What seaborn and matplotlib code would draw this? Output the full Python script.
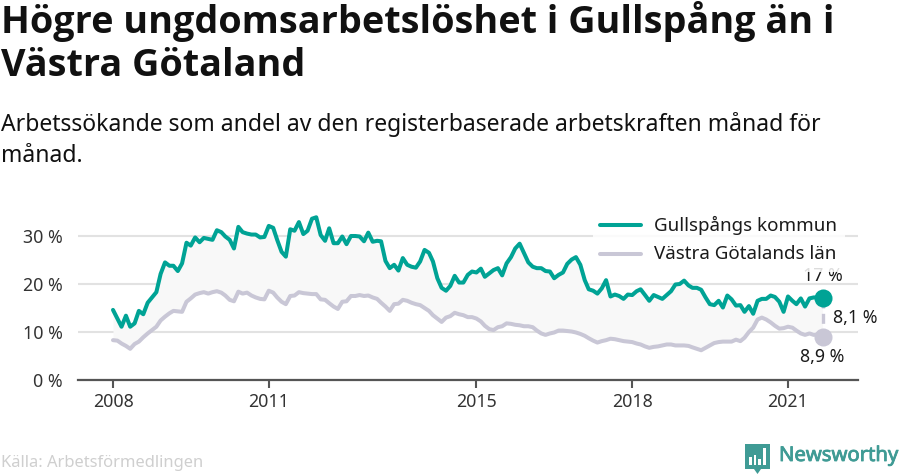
# ----- libraries
import matplotlib.pyplot as plt
import matplotlib.patches as patches
import matplotlib.patheffects as pe
import pandas as pd
import seaborn as sns

# ----- data, one row per year, monthly from 2008-01 to 2021-09
months = pd.date_range("2008-01-01", "2021-09-01", freq="MS")

gullspang = [
    14.6, 12.8, 11.1, 13.4, 11.1, 11.8, 14.4, 13.7, 16.1, 17.2, 18.3, 22.1,
    24.5, 23.8, 23.8, 22.7, 24.3, 28.6, 28.0, 29.7, 28.7, 29.6, 29.4, 29.2,
    31.2, 30.8, 29.9, 29.2, 27.4, 31.9, 30.8, 30.5, 30.3, 30.3, 29.7, 29.8,
    32.1, 31.7, 29.2, 26.7, 25.7, 31.4, 31.1, 32.9, 30.4, 31.1, 33.6, 33.9,
    30.2, 29.0, 31.6, 28.5, 28.5, 29.9, 28.3, 30.0, 30.0, 29.9, 28.9, 30.7,
    28.8, 29.0, 28.9, 24.8, 23.3, 24.0, 22.8, 25.4, 24.0, 23.6, 23.4, 24.7,
    27.1, 26.5, 24.7, 21.2, 19.2, 18.6, 19.6, 21.7, 20.3, 20.3, 21.9, 22.6,
    22.4, 23.2, 21.5, 22.2, 22.9, 23.3, 21.8, 24.3, 25.6, 27.4, 28.4, 26.5,
    24.5, 23.6, 23.3, 23.3, 22.7, 22.6, 21.2, 21.9, 22.4, 24.2, 25.1, 25.6,
    24.0, 20.8, 18.9, 18.6, 18.0, 19.1, 20.8, 17.4, 17.8, 17.5, 16.9, 17.8,
    17.7, 18.5, 18.9, 17.7, 16.5, 17.7, 17.3, 16.9, 17.7, 18.5, 19.9, 20.0,
    20.7, 19.7, 19.2, 19.2, 18.8, 17.2, 15.8, 15.6, 16.5, 15.1, 17.6, 16.8,
    15.5, 15.6, 14.2, 15.4, 13.8, 16.5, 16.9, 16.9, 17.6, 17.3, 16.3, 14.2,
    17.4, 16.5, 15.8, 17.0, 15.3, 17.0, 17.2, 17.2, 17.0,
]

vastra_gotaland = [
    8.3, 8.2, 7.6, 7.1, 6.5, 7.5, 8.0, 8.9, 9.7, 10.4, 11.1, 12.4,
    13.2, 13.9, 14.4, 14.3, 14.2, 16.3, 17.0, 17.8, 18.1, 18.3, 18.0, 18.3,
    18.5, 18.2, 17.6, 16.7, 16.4, 18.4, 18.0, 18.2, 17.6, 17.2, 16.9, 16.8,
    18.6, 18.2, 17.2, 16.3, 15.8, 17.5, 17.6, 18.3, 18.1, 18.0, 17.9, 17.9,
    16.8, 16.7, 16.0, 15.3, 14.8, 16.3, 16.4, 17.5, 17.5, 17.7, 17.5, 17.6,
    17.2, 16.9, 16.1, 15.3, 14.4, 15.8, 15.9, 16.7, 16.5, 16.1, 15.8, 15.6,
    15.0, 14.4, 13.5, 12.8, 12.1, 13.0, 13.3, 14.0, 13.7, 13.5, 13.1, 13.1,
    12.8, 12.2, 11.3, 10.6, 10.4, 11.0, 11.2, 11.8, 11.7, 11.5, 11.4, 11.2,
    11.2, 11.0, 10.3, 9.7, 9.4, 9.7, 9.9, 10.3, 10.3, 10.2, 10.1, 9.9,
    9.6, 9.2, 8.7, 8.2, 7.8, 8.1, 8.3, 8.6, 8.5, 8.3, 8.1, 8.0,
    7.9, 7.6, 7.4, 7.0, 6.7, 6.9, 7.0, 7.2, 7.4, 7.4, 7.2, 7.2,
    7.2, 7.1, 6.8, 6.5, 6.2, 6.7, 7.2, 7.7, 7.9, 8.0, 8.0, 8.0,
    8.4, 8.1, 8.8, 10.0, 10.9, 12.6, 13.0, 12.6, 12.0, 11.3, 10.7, 10.8,
    11.1, 10.9, 10.3, 9.7, 9.4, 9.7, 9.4, 9.5, 8.9,
]

series_names = ["Gullspångs kommun", "Västra Götalands län"]
year_ticks = [2008, 2011, 2015, 2018, 2021]
pct_ticks = [0, 10, 20, 30]

GREEN = "#00a395"
GREY = "#c9c7d6"
INK = "#1a1a1a"
LOGO = "#3f9b95"

W, H = 900, 474


def px(x, y):
    # pixel position in the reference -> figure fraction
    return x / W, 1 - y / H


# ----- main
sns.set_theme(style="white")
plt.rcParams["font.family"] = ["Noto Sans", "DejaVu Sans"]

df = pd.DataFrame({
    "month": list(months) * 2,
    "value": gullspang + vastra_gotaland,
    "area": [series_names[0]] * len(months) + [series_names[1]] * len(months),
})

fig = plt.figure(figsize=(W / 100, H / 100), dpi=100)
ax = fig.add_axes([78 / W, (H - 380) / H, 780 / W, 168 / H])
ax.set_facecolor("none")

ax.fill_between(months, gullspang, vastra_gotaland, color="#f8f8f8", lw=0, zorder=1)
sns.lineplot(
    data=df, x="month", y="value", hue="area", hue_order=series_names,
    palette=[GREEN, GREY], linewidth=2.9, ax=ax, zorder=3, legend=False,
)

# x scale: 2008-01-01 sits at px 113, 2021-01-01 at px 788
per_px = (pd.Timestamp("2021-01-01") - pd.Timestamp("2008-01-01")) / 675
ax.set_xlim(pd.Timestamp("2008-01-01") - 35 * per_px, pd.Timestamp("2008-01-01") + 745 * per_px)
ax.set_ylim(0, 35)

ax.set_yticks(pct_ticks)
ax.set_yticklabels([f"{p} %" for p in pct_ticks], fontsize=12.8, color="#333333")
ax.set_xticks([pd.Timestamp(f"{y}-01-01") for y in year_ticks])
ax.set_xticklabels(year_ticks, fontsize=12.8, color="#333333")
ax.tick_params(axis="y", length=0, pad=11)
ax.tick_params(axis="x", length=5.5, width=1.5, color="#555555", pad=4, bottom=True)
ax.set_xlabel("")
ax.set_ylabel("")

ax.grid(axis="y", color="#e2e2e2", linewidth=1.5, zorder=0)
ax.set_axisbelow(True)
for side in ["top", "right", "left"]:
    ax.spines[side].set_visible(False)
ax.spines["bottom"].set_color("#555555")
ax.spines["bottom"].set_linewidth(1.6)

# end points, gap line and value labels
last = months[-1]
ax.plot([last, last], [gullspang[-1], vastra_gotaland[-1]], color=GREY, lw=2.4,
        ls=(0, (3, 1.6)), zorder=2)
ax.plot([last], [gullspang[-1]], "o", color=GREEN, ms=13, mew=0, zorder=4)
ax.plot([last], [vastra_gotaland[-1]], "o", color=GREY, ms=13, mew=0, zorder=4)
ax.annotate("17 %", (last, gullspang[-1]), xytext=(0, 16), textcoords="offset points",
            ha="center", va="center", fontsize=12.8, color=INK, zorder=3)
ax.annotate("8,9 %", (last, vastra_gotaland[-1]), xytext=(0, -14), textcoords="offset points",
            ha="center", va="center", fontsize=12.8, color=INK, zorder=3)
ax.annotate("8,1 %", (last, 13), xytext=(7.5, 0), textcoords="offset points",
            ha="left", va="center", fontsize=12.8, color=INK, zorder=3)

# legend is hand placed, the white box hides gridline and the top of the 17 % label
fig.add_artist(patches.Rectangle(px(593, 272), 252 / W, 60 / H, transform=fig.transFigure,
                                 facecolor="white", edgecolor="none", alpha=0.85, zorder=5))
for name, color, y in zip(series_names, [GREEN, GREY], [225, 254]):
    fig.add_artist(plt.Line2D([600 / W, 641 / W], [1 - y / H] * 2, color=color, lw=2.9,
                              transform=fig.transFigure, zorder=6))
    fig.text(*px(654, y), name, fontsize=13.5, color=INK, va="center", ha="left", zorder=6)

# ----- title, subtitle, source
title = "Högre ungdomsarbetslöshet i Gullspång än i\nVästra Götaland"
fig.text(*px(1, 1), title, fontsize=27.2, fontweight="bold", family=["Open Sans", "Noto Sans"],
         color="#111111", va="top", ha="left", linespacing=1.18)
subtitle = "Arbetssökande som andel av den registerbaserade arbetskraften månad för\nmånad."
fig.text(*px(1, 112), subtitle, fontsize=16.5, color="#111111", va="top", ha="left",
         linespacing=1.4)
fig.text(*px(1, 463), "Källa: Arbetsförmedlingen", fontsize=11.9, color="#cfcfcf",
         va="center", ha="left")

# ----- logo
fig.text(*px(779, 456), "Newsworthy", fontsize=14.6, color=LOGO, va="center", ha="left",
         path_effects=[pe.withStroke(linewidth=0.6, foreground=LOGO)])
badge = [px(745, 444), px(770, 444), px(770, 469), px(761, 469), px(757.5, 474),
         px(754, 469), px(745, 469)]
fig.add_artist(patches.Polygon(badge, closed=True, transform=fig.transFigure,
                               facecolor=LOGO, edgecolor="none"))
for bx, top in zip([749, 753.5, 758, 763], [457, 455, 459, 448]):
    fig.add_artist(patches.Rectangle(px(bx, 465), 2.6 / W, (465 - top) / H,
                                     transform=fig.transFigure, facecolor="white",
                                     edgecolor="none"))

# ----- start
fig.savefig("out.png", dpi=100)
